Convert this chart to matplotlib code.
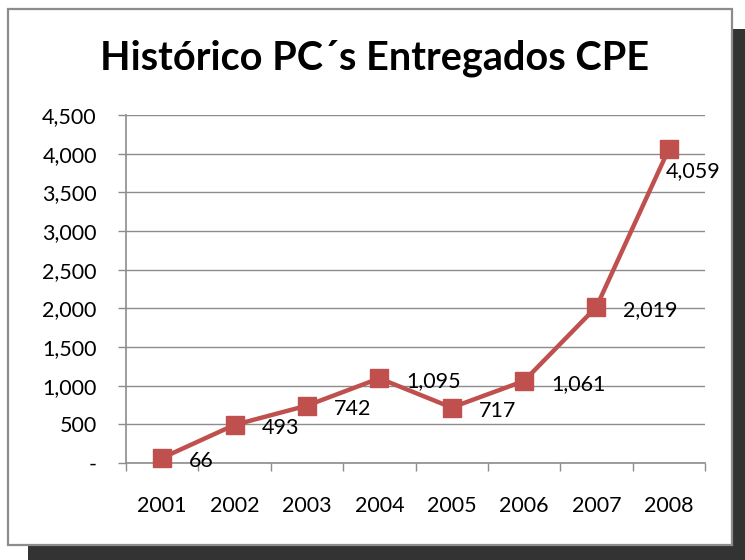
import matplotlib
matplotlib.use("Agg")
import matplotlib.pyplot as plt
from matplotlib.patches import Rectangle
from matplotlib.ticker import FixedLocator, FuncFormatter

years = ["2001", "2002", "2003", "2004", "2005", "2006", "2007", "2008"]
values = [66, 493, 742, 1095, 717, 1061, 2019, 4059]
title = "Histórico PC´s Entregados CPE"
yticks = [0, 500, 1000, 1500, 2000, 2500, 3000, 3500, 4000, 4500]

W, H = 745, 560
plt.rcParams['font.family'] = ['Lato', 'DejaVu Sans']
fig = plt.figure(figsize=(W / 100, H / 100), dpi=100)
fig.patch.set_facecolor('white')

def px_rect(x0, y0, x1, y1, **kw):
    return Rectangle((x0 / W, 1 - y1 / H), (x1 - x0) / W, (y1 - y0) / H,
                     transform=fig.transFigure, **kw)

# shadow and chart box
fig.patches.append(px_rect(28, 29, 760, 570, facecolor='#333333', edgecolor='none', zorder=0))
fig.patches.append(px_rect(8, 9, 732, 545, facecolor='white', edgecolor='#8c8c8c', linewidth=1.6, zorder=1))

ax = fig.add_axes([126 / W, 1 - 463 / H, (705 - 126) / W, (463 - 115) / H])
ax.set_facecolor('none')
ax.set_zorder(2)

color = '#C0504D'
x = list(range(len(years)))
ax.plot(x, values, color=color, linewidth=3.2, marker='s', markersize=12.5,
        markeredgecolor=color, markerfacecolor=color, zorder=3, clip_on=False)

ax.set_xlim(-0.5, len(years) - 0.5)
ax.set_ylim(0, 4500)

fs = 15.5
ax.yaxis.set_major_locator(FixedLocator(yticks))
ax.yaxis.set_major_formatter(FuncFormatter(lambda v, p: '-' if v == 0 else f"{int(v):,}"))
ax.grid(axis='y', color='#8c8c8c', linewidth=1.0)
ax.set_axisbelow(True)

ax.set_xticks(x)
ax.set_xticklabels(years)
ax.set_xticks([i - 0.5 for i in range(len(years) + 1)], minor=True)
ax.tick_params(axis='x', which='major', length=0, pad=24, labelsize=fs, colors='black')
ax.tick_params(axis='x', which='minor', length=6, color='#8c8c8c', width=1)
ax.tick_params(axis='y', which='major', length=6, color='#8c8c8c', width=1, pad=15,
               labelsize=fs, labelcolor='black')

for s in ['top', 'right']:
    ax.spines[s].set_visible(False)
for s in ['left', 'bottom']:
    ax.spines[s].set_color('#8c8c8c')
    ax.spines[s].set_linewidth(1.2)

# data labels
for i, v in enumerate(values):
    label = f"{v:,}"
    if i == len(values) - 1:
        ax.annotate(label, (i, v), xytext=(-3, -22), textcoords='offset pixels',
                    ha='left', va='center', fontsize=fs, zorder=4)
    else:
        ax.annotate(label, (i, v), xytext=(27, -3), textcoords='offset pixels',
                    ha='left', va='center', fontsize=fs, zorder=4)

fig.text(375 / W, 1 - 58 / H, title, ha='center', va='center', fontsize=28.5,
         fontweight='bold', zorder=5)

fig.savefig('out.png', dpi=100)
